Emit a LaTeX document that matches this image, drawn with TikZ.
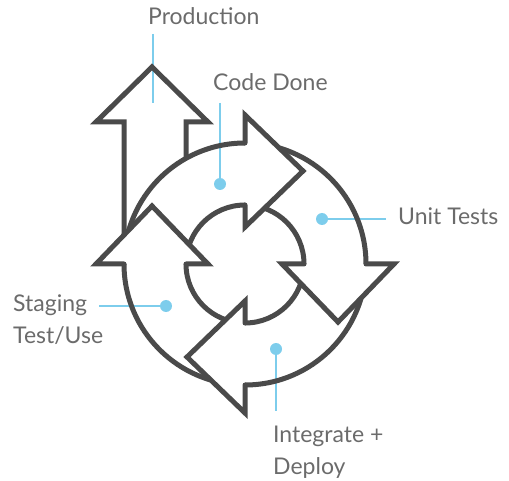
\documentclass[tikz,border=0pt]{standalone}
\usepackage{fontspec}
\setmainfont{Lato}
\definecolor{ink}{HTML}{4A4A4A}
\definecolor{lead}{HTML}{7DCDEC}
\definecolor{txt}{HTML}{6B6B6B}
\begin{document}
\begin{tikzpicture}[x=1pt,y=-1pt,
  inkline/.style={draw=ink, line width=5pt},
  headline/.style={inkline, line cap=round, line join=miter},
  leader/.style={draw=lead, line width=2.5pt},
  dot/.style={circle, fill=lead, inner sep=0pt, minimum size=12pt},
  lbl/.style={text=txt, font=\fontsize{23}{31.5}\selectfont, inner sep=0pt, anchor=base west, align=left}]
\useasboundingbox (0,0) rectangle (509,481);
\coordinate (C) at (245,264);

% leaders (under the dark outlines)
\coordinate (p1) at (153,34);
\coordinate (p2) at (153,103);
\draw[leader] (p1) -- (p2);
\coordinate (c1) at (220,103);
\node[dot] (cd) at (220,184) {};
\draw[leader] (c1) -- (cd.center);
\node[dot] (ud) at (322,219) {};
\coordinate (u1) at (386,219);
\draw[leader] (ud.center) -- (u1);
\coordinate (s1) at (99,306);
\node[dot] (sd) at (166,306) {};
\draw[leader] (s1) -- (sd.center);
\node[dot] (id) at (276,349) {};
\coordinate (i1) at (276,411);
\draw[leader] (id.center) -- (i1);

% production arrow
\draw[inkline] (124,235) -- (124,122) -- (96,122) -- (152,67) -- (208,122) -- (186,122) -- (186,158.4);

% ring, hidden under the four arrow heads
\begin{scope}[even odd rule]
\clip (0,0) rectangle (509,481)
  (245,115) -- (303,171) -- (245,227) -- cycle
  (394,264) -- (338,322) -- (282,264) -- cycle
  (245,413) -- (187,357) -- (245,301) -- cycle
  (96,264) -- (152,206) -- (208,264) -- cycle;
\draw[inkline] (C) circle (121);
\draw[inkline] (C) circle (59);
\end{scope}

% arrow heads
\draw[headline] (245,143) -- (245,115) -- (303,171) -- (245,227) -- (245,205);
\draw[headline] (366,264) -- (394,264) -- (338,322) -- (282,264) -- (304,264);
\draw[headline] (245,385) -- (245,413) -- (187,357) -- (245,301) -- (245,323);
\draw[headline] (124,264) -- (96,264) -- (152,206) -- (208,264) -- (186,264);

% labels (multi-line labels are anchored at the baseline of their last line)
\node[lbl] (prod) at (148,24.5) {Production};
\node[lbl] (code) at (213,91) {Code Done};
\node[lbl] (unit) at (398,225) {Unit Tests};
\node[lbl] (stag) at (13,343) {Staging\\Test/Use};
\node[lbl] (integ) at (273,474) {Integrate +\\Deploy};
\end{tikzpicture}
\end{document}
